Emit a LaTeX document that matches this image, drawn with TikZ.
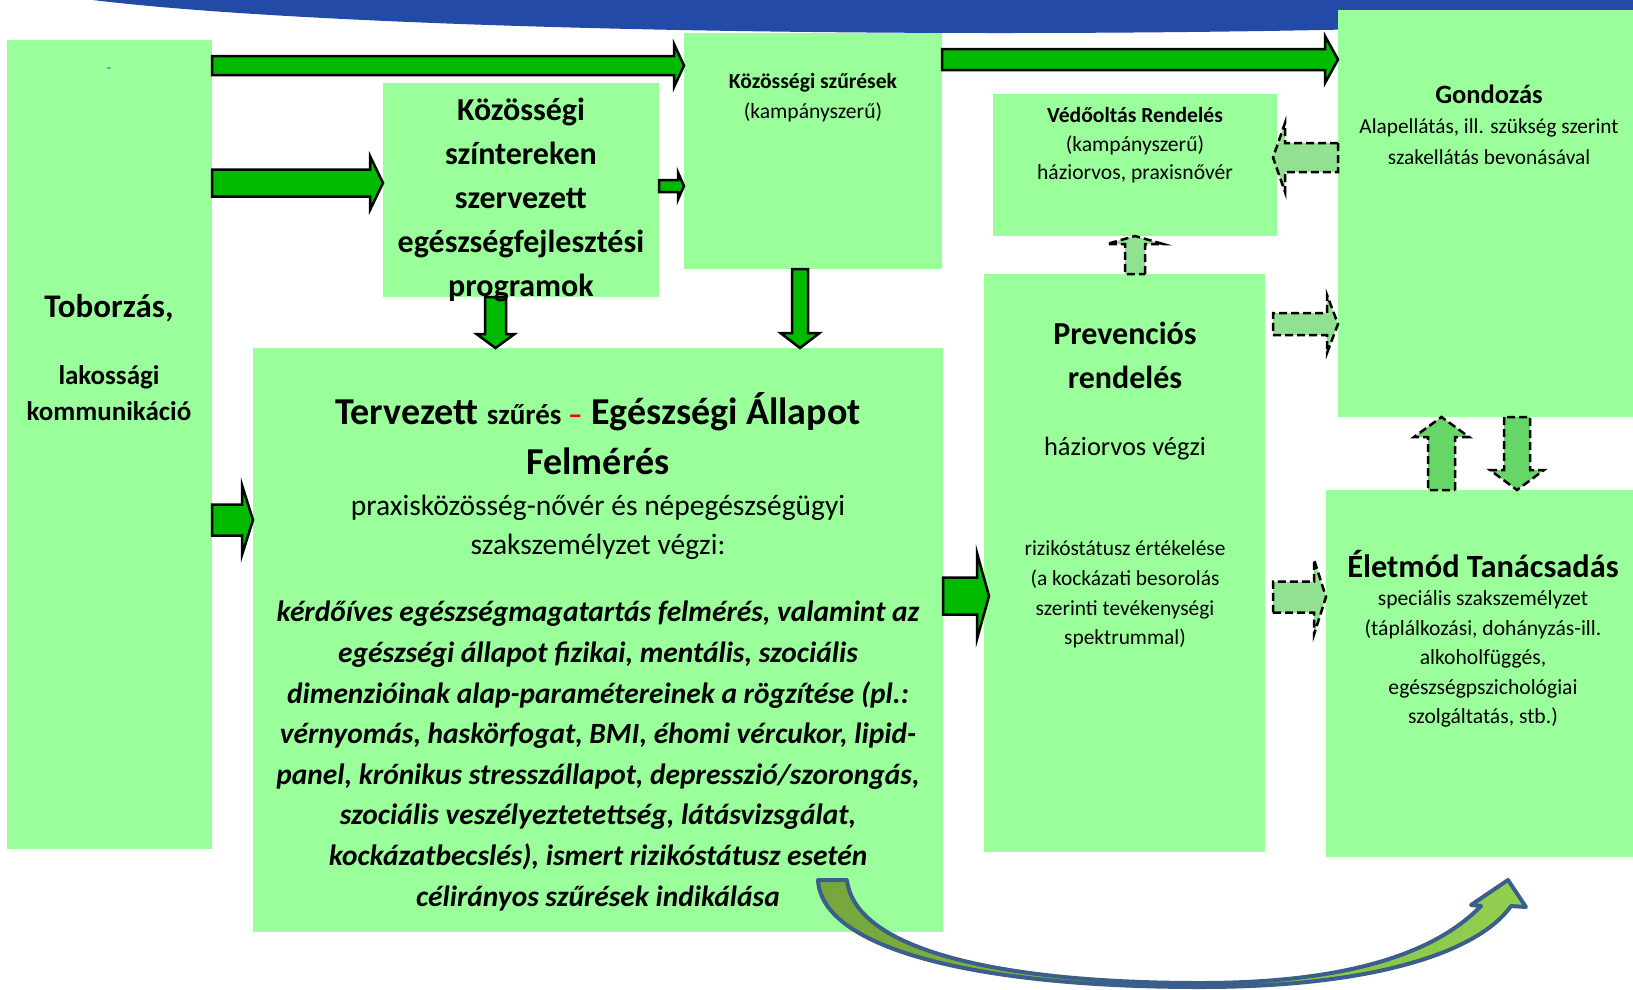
\documentclass[tikz,border=0pt]{standalone}
\usepackage{fontspec}
\setmainfont{Carlito}
\usepackage{xcolor}
\usepackage{tikz}
\usetikzlibrary{calc,arrows}

\definecolor{boxgreen}{RGB}{154,255,154}
\definecolor{arrgreen}{RGB}{0,187,0}
\definecolor{palegreen}{RGB}{146,224,146}
\definecolor{midgreen}{RGB}{102,214,102}
\definecolor{arcblue}{RGB}{36,74,168}
\definecolor{curveblue}{RGB}{59,94,138}
\definecolor{olivegreen}{RGB}{118,166,60}
\definecolor{limegreen}{RGB}{146,208,80}
\definecolor{dashblue}{RGB}{0,112,192}

% block arrow: [style]{from}{to}{shaft half}{head half}{head length}
\newcommand{\blockarrow}[6][solidarr]{%
  \path let \p1=($(#3)-(#2)$) in \pgfextra{%
    \pgfmathsetmacro{\barang}{atan2(\y1,\x1)}%
    \pgfmathsetmacro{\barlen}{veclen(\x1,\y1)}%
    \xdef\barang{\barang}\xdef\barlen{\barlen}};
  \draw[#1, shift={(#2)}, rotate=\barang] (0,#4) -- ({\barlen-#6},#4) -- ({\barlen-#6},#5)
    -- (\barlen,0) -- ({\barlen-#6},-#5) -- ({\barlen-#6},-#4) -- (0,-#4) -- cycle;
}

\begin{document}
\begin{tikzpicture}[x=1pt,y=-1pt]
  \tikzstyle{every node}+=[inner sep=0pt, outer sep=0pt]
  \tikzstyle{box}=[fill=boxgreen, minimum width=#1]
  \tikzstyle{txt}=[align=center]
  \tikzstyle{solidarr}=[fill=arrgreen, draw=black, line width=2.5pt, line join=miter]
  \tikzstyle{dasharr}=[fill=palegreen, draw=black, line width=2.5pt, dash pattern=on 8pt off 4pt]
  \tikzstyle{dasharrb}=[dasharr, fill=midgreen]
  \tikzstyle{curvearr}=[draw=curveblue, line width=4pt, line join=round, left color=olivegreen, right color=limegreen]
  \useasboundingbox (0,0) rectangle (1633,989);

  % blue band at the top
  \begin{scope}
    \clip (0,0) rectangle (1633,989);
    \fill[arcblue] (1000,-24) ellipse [x radius=1000, y radius=57];
  \end{scope}

  % boxes
  \node[box=205, minimum height=809] (tob) at (109.5,444.5) {};
  \node[box=276, minimum height=214] (kszin) at (521,190) {};
  \node[box=258, minimum height=236] (kszur) at (813,151) {};
  \node[box=295, minimum height=407] (gond) at (1485.5,213.5) {};
  \node[box=284, minimum height=142] (vedo) at (1135,165) {};
  \node[box=281, minimum height=578] (prev) at (1124.5,563) {};
  \node[box=307, minimum height=367] (elet) at (1479.5,673.5) {};
  \node[box=690, minimum height=584] (terv) at (598,640) {};

  % solid arrows
  \blockarrow{tob.east |- 0,65.5}{kszur.west |- 0,65.5}{9.5}{21.5}{10}
  \blockarrow{tob.east |- 0,183}{kszin.west |- 0,183}{13.5}{27}{13}
  \blockarrow{kszin.east |- 0,186}{kszur.west |- 0,186}{6}{13.5}{6}
  \blockarrow{kszur.east |- 0,59.5}{gond.west |- 0,59.5}{10.5}{23.5}{13}
  \blockarrow{kszin.south -| 495.5,0}{terv.north -| 495.5,0}{10.5}{19}{14}
  \blockarrow{kszur.south -| 800,0}{terv.north -| 800,0}{8}{19.5}{15}
  \blockarrow{tob.east |- 0,520}{terv.west |- 0,520}{15.5}{35}{11}
  \coordinate (previn) at ($(prev.west |- 0,596)+(5,0)$);
  \blockarrow{terv.east |- 0,596}{previn}{18.5}{43}{12}

  % dashed arrows
  \coordinate (vedoin) at ($(vedo.east |- 0,157.5)+(-4,0)$);
  \blockarrow[dasharr]{gond.west |- 0,157.5}{vedoin}{14.5}{34.5}{12}
  \blockarrow[dasharr]{prev.north -| 1135,0}{vedo.south -| 1135,0}{10}{28}{8}
  \coordinate (prevout1) at ($(prev.east |- 0,324)+(8,0)$);
  \blockarrow[dasharr]{prevout1}{gond.west |- 0,324}{11}{29}{11}
  \coordinate (prevout2) at ($(prev.east |- 0,597)+(8,0)$);
  \blockarrow[dasharr]{prevout2}{elet.west |- 0,597}{15.5}{37.5}{12}
  \blockarrow[dasharrb]{elet.north -| 1441.5,0}{gond.south -| 1441.5,0}{13.5}{27.5}{20}
  \blockarrow[dasharrb]{gond.south -| 1517,0}{elet.north -| 1517,0}{13}{27}{20}

  % texts
  \node[text=dashblue, font=\fontsize{14}{16}\selectfont] (tobdash) at (109,70) {-};
  \node[txt, font=\bfseries\fontsize{33}{38}\selectfont] (tobt1) at (109,308) {Toborzás,};
  \node[txt, font=\bfseries\fontsize{27}{36}\selectfont] (tobt2) at (109,393) {lakossági\\kommunikáció};

  \node[txt, font=\bfseries\fontsize{32}{44}\selectfont] (kszint) at (521,200)
    {Közösségi\\színtereken\\szervezett\\egészségfejlesztési\\programok};

  \node[txt, font=\fontsize{21.6}{30}\selectfont] (kszurt) at (813,98)
    {\textbf{Közösségi szűrések}\\(kampányszerű)};

  \node[txt, font=\fontsize{21.6}{28.5}\selectfont] (vedot) at (1135,145.5)
    {\textbf{Védőoltás Rendelés}\\(kampányszerű)\\háziorvos, praxisnővér};

  \node[txt, font=\bfseries\fontsize{26.5}{30}\selectfont] (gondt1) at (1489,94) {Gondozás};
  \node[txt, font=\fontsize{21.3}{31}\selectfont] (gondt2) at (1489,141.5)
    {Alapellátás, ill. szükség szerint\\szakellátás bevonásával};

  \node[txt, font=\bfseries\fontsize{32}{44}\selectfont] (prevt1) at (1125,355) {Prevenciós\\rendelés};
  \node[txt, font=\fontsize{26.4}{30}\selectfont] (prevt2) at (1125,449) {háziorvos végzi};
  \node[txt, font=\fontsize{21.4}{29.7}\selectfont] (prevt3) at (1125,594.5)
    {rizikóstátusz értékelése\\(a kockázati besorolás\\szerinti tevékenységi\\spektrummal)};

  \node[txt, font=\bfseries\fontsize{32.4}{36}\selectfont] (elett1) at (1483,564) {Életmód Tanácsadás};
  \node[txt, font=\fontsize{21.6}{29.5}\selectfont] (elett2) at (1483,659)
    {speciális szakszemélyzet\\(táplálkozási, dohányzás-ill.\\alkoholfüggés,\\egészségpszichológiai\\szolgáltatás, stb.)};

  \node[txt, font=\bfseries\fontsize{38}{50}\selectfont] (tervt1) at (598,434)
    {Tervezett {\fontsize{29}{50}\selectfont szűrés {\color{red}–}} Egészségi Állapot\\Felmérés};
  \node[txt, font=\fontsize{29.5}{39}\selectfont] (tervt2) at (598,527.5)
    {praxisközösség-nővér és népegészségügyi\\szakszemélyzet végzi:};
  \node[txt, font=\bfseries\itshape\fontsize{29.4}{40.6}\selectfont] (tervt3) at (598,756)
    {kérdőíves egészségmagatartás felmérés, valamint az\\
     egészségi állapot fizikai, mentális, szociális\\
     dimenzióinak alap-paramétereinek a rögzítése (pl.:\\
     vérnyomás, haskörfogat, BMI, éhomi vércukor, lipid-\\
     panel, krónikus stresszállapot, depresszió/szorongás,\\
     szociális veszélyeztetettség, látásvizsgálat,\\
     kockázatbecslés), ismert rizikóstátusz esetén\\
     célirányos szűrések indikálása};

  % curved arrow at the bottom
  \draw[curvearr] (818,880) .. controls (822,950) and (980,987) .. (1200,987)
    .. controls (1380,987) and (1480,950) .. (1511,906) -- (1526,907) -- (1508,880)
    -- (1471,905) -- (1481,906) .. controls (1440,948) and (1360,983) .. (1200,983)
    .. controls (1000,983) and (855,950) .. (847,880) -- cycle;
\end{tikzpicture}
\end{document}
